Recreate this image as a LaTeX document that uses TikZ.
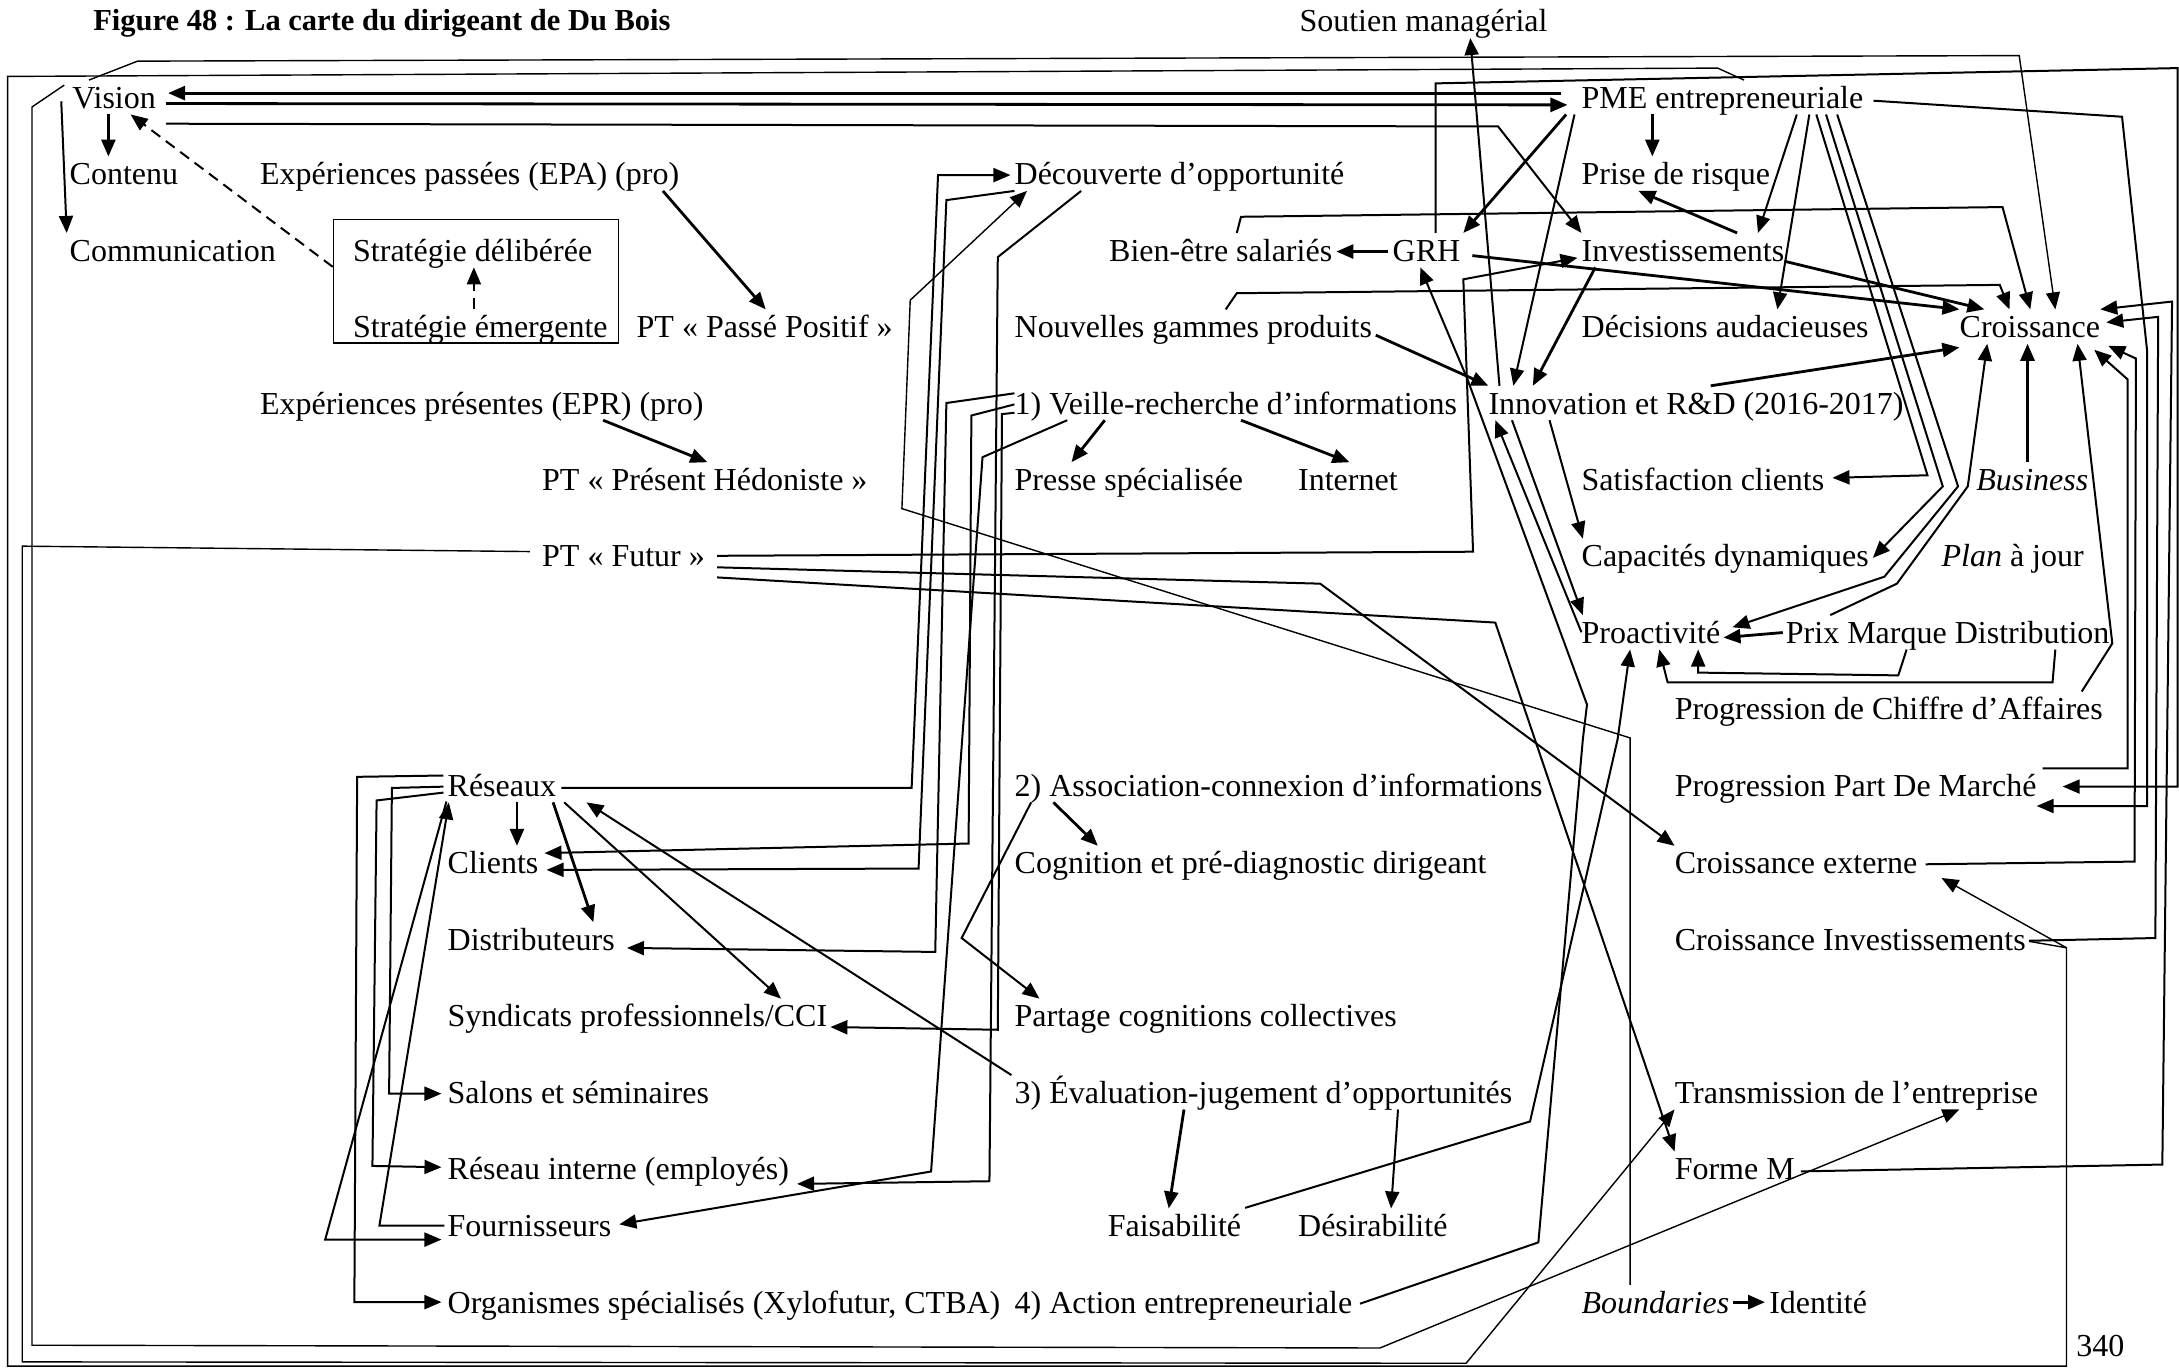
\documentclass[tikz,border=0pt]{standalone}
\usepackage{fontspec}
\setmainfont{Liberation Serif}
\usetikzlibrary{arrows.meta,calc}
\begin{document}
\begin{tikzpicture}[x=1.3897pt,y=-1.3897pt,
  txt/.style={anchor=west,inner xsep=0pt,inner ysep=2pt,text height=26pt,text depth=4pt,font=\fontsize{32}{38}\selectfont},
  ln/.style={line width=1.4pt},
  md/.style={line width=2pt},
  tk/.style={line width=2.8pt},
  ar/.style={-{Triangle[length=17pt,width=14pt]}},
  dsh/.style={dash pattern=on 11pt off 7pt},
  boxst/.style={draw,line width=1.6pt,minimum width=284.9pt,minimum height=123.7pt,inner sep=0pt}]
\fill[white] (0,0) rectangle (1568,984);
\useasboundingbox (0,0) rectangle (1568,984);
% ---------- nodes ----------
\node[anchor=west,inner sep=0pt,font=\fontsize{30.5}{36}\selectfont\bfseries] (title) at (67,17) {Figure 48 : La carte du dirigeant de Du Bois};
\node[txt] (sout) at (935,15) {Soutien managérial};
\node[txt] (vis) at (52,70) {Vision};
\node[txt] (pme) at (1138,70) {PME entrepreneuriale};
\node[txt] (cont) at (50,125) {Contenu};
\node[txt] (epa) at (187,125) {Expériences passées (EPA) (pro)};
\node[txt] (dec) at (730,125) {Découverte d’opportunité};
\node[txt] (prise) at (1138,125) {Prise de risque};
\node[txt] (comm) at (50,180) {Communication};
\node[txt] (sdel) at (254,180) {Stratégie délibérée};
\node[txt] (bien) at (798,180) {Bien-être salariés};
\node[txt] (grh) at (1002,180) {GRH};
\node[txt] (inv) at (1138,180) {Investissements};
\node[txt] (seme) at (254,235) {Stratégie émergente};
\node[boxst] (sbox) at (342.5,202.5) {};
\node[txt] (ppp) at (458,235) {PT « Passé Positif »};
\node[txt] (nouv) at (730,235) {Nouvelles gammes produits};
\node[txt] (deci) at (1138,235) {Décisions audacieuses};
\node[txt] (croi) at (1410,235) {Croissance};
\node[txt] (epr) at (187,290) {Expériences présentes (EPR) (pro)};
\node[txt] (veil) at (730,290) {1) Veille-recherche d’informations};
\node[txt] (inno) at (1071,290) {Innovation et R\&D (2016-2017)};
\node[txt] (pph) at (390,345) {PT « Présent Hédoniste »};
\node[txt] (pres) at (730,345) {Presse spécialisée};
\node[txt] (inter) at (934,345) {Internet};
\node[txt] (sat) at (1138,345) {Satisfaction clients};
\node[txt] (bus) at (1422,345) {\itshape Business};
\node[txt] (ptf) at (390,400) {PT « Futur »};
\node[txt] (cap) at (1138,400) {Capacités dynamiques};
\node[txt] (plan) at (1397,400) {\textit{Plan} à jour};
\node[txt] (pro) at (1138,455) {Proactivité};
\node[txt] (prix) at (1285,455) {Prix Marque Distribution};
\node[txt] (pca) at (1205,510) {Progression de Chiffre d’Affaires};
\node[txt] (res) at (322,565) {Réseaux};
\node[txt] (asso) at (730,565) {2) Association-connexion d’informations};
\node[txt] (ppm) at (1205,565) {Progression Part De Marché};
\node[txt] (cli) at (322,621) {Clients};
\node[txt] (cogn) at (730,621) {Cognition et pré-diagnostic dirigeant};
\node[txt] (cext) at (1205,621) {Croissance externe};
\node[txt] (dist) at (322,676) {Distributeurs};
\node[txt] (cinv) at (1205,676) {Croissance Investissements};
\node[txt] (synd) at (322,731) {Syndicats professionnels/CCI};
\node[txt] (part) at (730,731) {Partage cognitions collectives};
\node[txt] (salo) at (322,786) {Salons et séminaires};
\node[txt] (eval) at (730,786) {3) Évaluation-jugement d’opportunités};
\node[txt] (trans) at (1205,786) {Transmission de l’entreprise};
\node[txt] (rint) at (322,841) {Réseau interne (employés)};
\node[txt] (forme) at (1205,841) {Forme M};
\node[txt] (four) at (322,882) {Fournisseurs};
\node[txt] (fais) at (797,882) {Faisabilité};
\node[txt] (desi) at (934,882) {Désirabilité};
\node[txt] (orga) at (322,937) {Organismes spécialisés (Xylofutur, CTBA)};
\node[txt] (act) at (730,937) {4) Action entrepreneuriale};
\node[txt] (bound) at (1138,937) {\itshape Boundaries};
\node[txt] (iden) at (1273,937) {Identité};
\node[txt] (pg) at (1494,968) {340};
% ---------- Vision cluster ----------
\draw[tk,ar] (78,0 |- vis.south) -- (78,0 |- cont.north);
\draw[md,ar] ([xshift=-11pt,yshift=-4pt]vis.west) -- (48,0 |- comm.north);
\draw[md,dsh,ar] (sbox.west |- 0,192) -- (94,0 |- vis.south);
\draw[md,dsh,ar] (341,0 |- seme.north) -- (341,0 |- sdel.south);
\draw[tk,ar] (477,0 |- epa.south) -- (551,0 |- ppp.north);
\draw[tk,ar] (434,0 |- epr.south) -- (509,0 |- pph.north);
\draw[tk,ar,shorten <=20pt,shorten >=12pt] (pme.west |- 0,67) -- (vis.east |- 0,67);
\draw[tk,ar,shorten <=10pt,shorten >=14pt] (vis.east |- 0,74.5) -- (pme.west |- 0,75.5);
\draw[md,ar,shorten <=10pt] (vis.east |- 0,89) -- (1078,91) -- (inv.north west);
\draw[ln,ar] (64,0 |- vis.north) -- (99,44) -- (1453,40) -- (1479,0 |- croi.north);
% ---------- outer loops ----------
\draw[ln,ar] (1255,0 |- pme.north) -- (1236,49) -- (5.5,55) -- (5.5,983) -- (1487,983) -- (1487,682) -- ([xshift=24pt,yshift=-15pt]cext.east);
\draw[ln,shorten <=3pt] (cinv.east |- 0,677) -- (1487,682);
\draw[ln,ar] ([xshift=-8pt,yshift=-5pt]vis.north west) -- (23,77) -- (23,968) -- (993,970) -- (1410,0 |- trans.south);
\draw[ln,ar,shorten <=12pt] (ptf.west |- 0,397) -- (16,393) -- (16,980) -- (1055,981) -- (trans.south west);
% ---------- PME cluster ----------
\draw[tk,ar] (1189,0 |- pme.south) -- (1189,0 |- prise.north);
\draw[tk,ar] (1127,0 |- pme.south) -- (1053,0 |- grh.north);
\draw[md,ar] (1133,0 |- pme.south) -- (1089,0 |- inno.north);
\draw[md,ar] (1293,0 |- pme.south) -- (1265,0 |- inv.north);
\draw[md,ar] (1302,0 |- pme.south) -- (1279,0 |- deci.north);
\draw[md,ar,shorten >=8pt] (1307,0 |- pme.south) -- (1387,342) -- (sat.east |- 0,344);
\draw[md,ar] (1314,0 |- pme.south) -- (1398,350) -- ([xshift=4pt,yshift=-2pt]cap.east);
\draw[md,ar] (1322,0 |- pme.south) -- (1409,350) -- (1356,415) -- ([xshift=12pt,yshift=5pt]pro.east);
\draw[md,ar] (1317,0 |- prix.north) -- (1365,420) -- (1416,350) -- (1430,0 |- croi.south);
\draw[tk,ar] (1459,0 |- bus.north) -- (1459,0 |- croi.south);
\draw[md,ar] (1498,0 |- pca.north) -- (1520,463) -- (1495,0 |- croi.south);
\draw[md,ar,shorten <=10pt] (pme.east |- 0,72) -- (1527,84) -- (1545,252) -- (1545,580) -- (ppm.east |- 0,580);
% right verticals
\draw[md,ar,shorten <=6pt] (ppm.east |- 0,553) -- (1531,553) -- (1531,273) -- ([xshift=-6pt,yshift=-6pt]croi.south east);
\draw[md,ar,shorten <=8pt] (cext.east |- 0,622) -- (1536,620) -- (1537,258) -- ([xshift=8pt,yshift=-2pt]croi.south east);
\draw[md,ar,shorten <=3pt] (cinv.east |- 0,677) -- (1551,675) -- (1553,228) -- ([xshift=6pt]croi.east |- 0,232);
\draw[md,ar,shorten <=6pt] (forme.east |- 0,843) -- (1556,838) -- (1563,217) -- (croi.north east);
% ---------- GRH etc ----------
\draw[tk,ar,shorten >=4pt,shorten <=4pt] (grh.west |- 0,181) -- (bien.east |- 0,181);
\draw[tk,ar,shorten <=12pt] (grh.east |- 0,183) -- (croi.north west);
\draw[md,ar,shorten >=26pt] (1033,0 |- grh.north) -- (1033,60) -- (1567,49) -- (1567,566) -- (ppm.east |- 0,566);
\draw[md,ar] (890,0 |- bien.north) -- (893,156) -- (1441,149) -- (1461,0 |- croi.north);
\draw[md,ar] (882,0 |- nouv.north) -- (890,211) -- (1439,205) -- (1446,0 |- croi.north);
\draw[tk,ar,shorten <=4pt] (nouv.east |- 0,240) -- (inno.north west);
\draw[tk,ar] (1250,0 |- inv.north) -- (1179,0 |- prise.south);
\draw[tk,ar] (inv.east |- 0,188) -- (1428,0 |- croi.north);
\draw[tk,ar] (1148,0 |- inv.south) -- (1103,0 |- inno.north);
\draw[tk,ar] (1231,0 |- inno.north) -- (croi.west |- 0,250);
\draw[md,ar] (1079,0 |- inno.north) -- (1058,0 |- sout.south);
\draw[md,ar] (1115,0 |- inno.south) -- (1139,0 |- cap.north);
\draw[md,ar] (1088,0 |- inno.south) -- (1139,0 |- pro.north);
\draw[md,ar] (pro.west) -- (1076,0 |- inno.south);
\draw[tk,ar,shorten <=3pt,shorten >=3pt] (prix.west |- 0,455) -- (pro.east |- 0,459);
\draw[md,ar] (1372,0 |- prix.south) -- (1366,486) -- (1222,484) -- (1222,0 |- pro.south);
\draw[md,ar] (1479,0 |- prix.south) -- (1477,491) -- (1200,491) -- (1194,0 |- pro.south);
% ---------- action / faisabilite ----------
\draw[md,ar,shorten <=8pt] (act.east |- 0,940) -- (1107,894) -- (1139,532) -- (1142,507) -- (1056,273) -- (1022,0 |- grh.south);
\draw[md,ar,shorten <=4pt] (fais.east |- 0,870) -- (1101,807) -- (1164,532) -- (1173,0 |- pro.south);
\draw[ln,ar] (1173,0 |- bound.north) -- (1173,531) -- (649,366) -- (655,216) -- (739,0 |- dec.south);
% ---------- PT Futur ----------
\draw[md,ar,shorten <=12pt,shorten >=4pt] (ptf.east |- 0,400) -- (1060,397) -- (1053,201) -- (inv.west |- 0,185);
\draw[md,ar,shorten <=12pt] (ptf.east |- 0,408) -- (950,420) -- (cext.north west);
\draw[md,ar,shorten <=12pt] (ptf.east |- 0,415) -- (1076,448) -- (forme.north west);
% ---------- Veille ----------
\draw[tk,ar] (795,0 |- veil.south) -- (771,0 |- pres.north);
\draw[tk,ar] (893,0 |- veil.south) -- (971,0 |- inter.north);
\draw[md,ar,shorten >=12pt] (veil.west |- 0,283) -- (681,290) -- (673,685) -- (dist.east |- 0,682);
\draw[md,ar,shorten >=6pt] (veil.west |- 0,291) -- (699,299) -- (697,607) -- (cli.east |- 0,614);
\draw[md,ar,shorten >=3pt] (veil.west |- 0,297) -- (721,298) -- (718,741) -- (synd.east |- 0,739);
\draw[md,ar,shorten >=8pt] (768,0 |- veil.south) -- (707,329) -- (670,843) -- (four.east |- 0,882);
\draw[md,ar,shorten >=8pt] (dec.south west) -- (681,144) -- (661,625) -- (cli.east |- 0,626);
\draw[md,ar,shorten >=8pt] (778,0 |- dec.south) -- (718,185) -- (712,850) -- (rint.east |- 0,852);
\draw[md,ar,shorten <=5pt,shorten >=4pt] (res.east |- 0,567) -- (656,567) -- (675,126) -- (dec.west |- 0,126);
% ---------- Reseaux ----------
\draw[tk,ar] (372,0 |- res.south) -- (372,0 |- cli.north);
\draw[tk,ar] (398,0 |- res.south) -- (427,0 |- dist.north);
\draw[md,ar] (406,0 |- res.south) -- (562,0 |- synd.north);
\draw[md,ar] ([xshift=-3pt]eval.north west) -- (422,0 |- res.south);
\draw[md,ar,shorten <=4pt,shorten >=6pt] (res.west |- 0,558) -- (257,559) -- (255,937) -- (orga.west |- 0,937);
\draw[md,ar,shorten <=4pt,shorten >=6pt] (res.west |- 0,566) -- (282,567) -- (280,787) -- (salo.west |- 0,787);
\draw[md,ar,shorten <=4pt,shorten >=6pt] (res.west |- 0,570) -- (271,576) -- (268,839) -- (rint.west |- 0,840);
\draw[md,ar,shorten <=4pt,shorten >=6pt] (res.west |- 0,574) -- (234,892) -- (four.west |- 0,892);
\draw[md,ar,shorten <=3pt] (four.west |- 0,882) -- (273,882) -- (323,0 |- res.south);
% ---------- evaluation / association ----------
\draw[tk,ar] (852,0 |- eval.south) -- (841,0 |- fais.north);
\draw[md,ar] (1006,0 |- eval.south) -- (1001,0 |- desi.north);
\draw[tk,ar] (758,0 |- asso.south) -- (790,0 |- cogn.north);
\draw[md,ar] (742,0 |- asso.south) -- (692,675) -- (748,0 |- part.north);
\draw[tk,ar,shorten <=4pt,shorten >=4pt] (bound.east) -- (iden.west);
\end{tikzpicture}
\end{document}
